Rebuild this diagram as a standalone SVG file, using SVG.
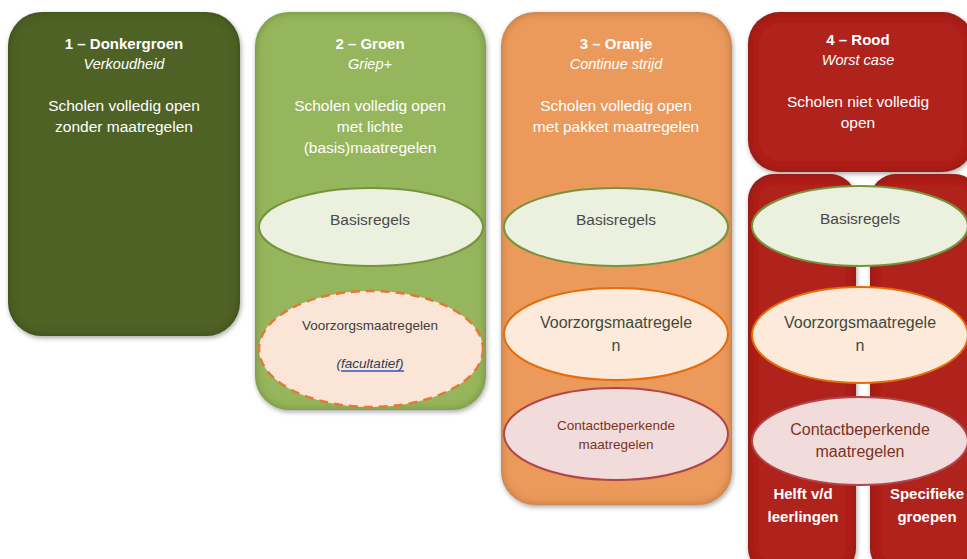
<svg xmlns="http://www.w3.org/2000/svg" width="967" height="559" viewBox="0 0 967 559">
<defs>
<filter id="box" x="-10%" y="-10%" width="120%" height="120%">
  <feFlood flood-color="#000" flood-opacity="0.5" result="f"/>
  <feComposite in="f" in2="SourceAlpha" operator="out" result="inv"/>
  <feGaussianBlur in="inv" stdDeviation="5" result="blur"/>
  <feComposite in="blur" in2="SourceAlpha" operator="in" result="inner"/>
  <feGaussianBlur in="SourceAlpha" stdDeviation="2.5" result="ds"/>
  <feOffset in="ds" dx="1" dy="2" result="dso"/>
  <feComponentTransfer in="dso" result="dsf"><feFuncA type="linear" slope="0.35"/></feComponentTransfer>
  <feMerge><feMergeNode in="dsf"/><feMergeNode in="SourceGraphic"/><feMergeNode in="inner"/></feMerge>
</filter>
</defs>
<style>
text{font-family:"Liberation Sans","Open Sans",sans-serif;text-anchor:middle}
.h{font-size:15px;font-weight:bold;fill:#fff}
.i{font-size:14.5px;font-style:italic;fill:#fff}
.w{font-size:15.5px;fill:#fff}
.e{font-size:15.5px;fill:#4a4a4a}
.v{font-size:16px;fill:#3d4a3a}
.c{fill:#7a3326}
.basis{fill:#ebf1de;stroke:#77933c;stroke-width:2}
.voor{fill:#fdeada;stroke:#e46c0a;stroke-width:2}
.cont{fill:#f2dcdb;stroke:#b0464a;stroke-width:2}
</style>
<rect width="967" height="559" fill="#fff"/>

<g id="donkergroen">
  <rect x="8" y="12" width="232" height="324" rx="34" fill="#4f6228" filter="url(#box)"/>
  <text class="h" x="124" y="49">1 – Donkergroen</text>
  <text class="i" x="124" y="69">Verkoudheid</text>
  <text class="w" x="124" y="111">Scholen volledig open</text>
  <text class="w" x="124" y="132">zonder maatregelen</text>
</g>

<g id="groen">
  <rect x="255" y="12" width="231" height="398" rx="34" fill="#95b65b" filter="url(#box)"/>
  <text class="h" x="370" y="49">2 – Groen</text>
  <text class="i" x="370" y="69">Griep+</text>
  <text class="w" x="370" y="111">Scholen volledig open</text>
  <text class="w" x="370" y="132">met lichte</text>
  <text class="w" x="370" y="153">(basis)maatregelen</text>
  <g id="groen-basis">
    <ellipse class="basis" cx="371" cy="227" rx="112" ry="39"/>
    <text class="e" x="370" y="225">Basisregels</text>
  </g>
  <g id="groen-voorzorg">
    <ellipse cx="371" cy="349" rx="112" ry="58" fill="#fbe5d6" stroke="#e07a35" stroke-width="2.5" stroke-dasharray="9,6"/>
    <text x="370" y="330" style="font-size:13.5px;fill:#3d3d3d">Voorzorgsmaatregelen</text>
    <text x="370" y="368" style="font-size:13.5px;font-style:italic;fill:#333a55">(facultatief)</text>
    <line x1="341" y1="371" x2="404" y2="371" stroke="#2f55c7" stroke-width="1.5"/>
  </g>
</g>

<g id="oranje">
  <rect x="501" y="12" width="231" height="493" rx="34" fill="#eb9a5c" filter="url(#box)"/>
  <text class="h" x="616" y="49">3 – Oranje</text>
  <text class="i" x="616" y="69">Continue strijd</text>
  <text class="w" x="616" y="111">Scholen volledig open</text>
  <text class="w" x="616" y="132">met pakket maatregelen</text>
  <g id="oranje-basis">
    <ellipse class="basis" cx="616" cy="227" rx="112" ry="39"/>
    <text class="e" x="616" y="225">Basisregels</text>
  </g>
  <g id="oranje-voorzorg">
    <ellipse class="voor" cx="616" cy="334" rx="112" ry="46"/>
    <text class="v" x="616" y="328">Voorzorgsmaatregele</text>
    <text class="v" x="616" y="351">n</text>
  </g>
  <g id="oranje-contact">
    <ellipse class="cont" cx="616" cy="434" rx="112" ry="46"/>
    <text class="c" x="616" y="430" style="font-size:13.5px">Contactbeperkende</text>
    <text class="c" x="616" y="449" style="font-size:13.5px">maatregelen</text>
  </g>
</g>

<g id="rood">
  <rect x="748" y="12" width="226" height="160" rx="32" fill="#b0221b" filter="url(#box)"/>
  <text class="h" x="858" y="45">4 – Rood</text>
  <text class="i" x="858" y="65">Worst case</text>
  <text class="w" x="858" y="107">Scholen niet volledig</text>
  <text class="w" x="858" y="128">open</text>
</g>

<g id="rood-helft">
  <rect x="748" y="174" width="108" height="400" rx="26" fill="#b0221b" filter="url(#box)"/>
  <text class="h" x="803" y="499">Helft v/d</text>
  <text class="h" x="803" y="522">leerlingen</text>
</g>

<g id="rood-specifiek">
  <rect x="870" y="174" width="110" height="400" rx="26" fill="#b0221b" filter="url(#box)"/>
  <text class="h" x="927" y="499">Specifieke</text>
  <text class="h" x="927" y="522">groepen</text>
</g>

<g id="rood-basis">
  <ellipse class="basis" cx="860" cy="226" rx="108" ry="40"/>
  <text class="e" x="860" y="224">Basisregels</text>
</g>
<g id="rood-voorzorg">
  <ellipse class="voor" cx="860" cy="335" rx="108" ry="48"/>
  <text class="v" x="860" y="328">Voorzorgsmaatregele</text>
  <text class="v" x="860" y="351">n</text>
</g>
<g id="rood-contact">
  <ellipse class="cont" cx="860" cy="441" rx="108" ry="44" stroke="#c08a8e"/>
  <text class="c" x="860" y="435" style="font-size:16px">Contactbeperkende</text>
  <text class="c" x="860" y="457" style="font-size:16px">maatregelen</text>
</g>

<g id="connectors"/>
</svg>
